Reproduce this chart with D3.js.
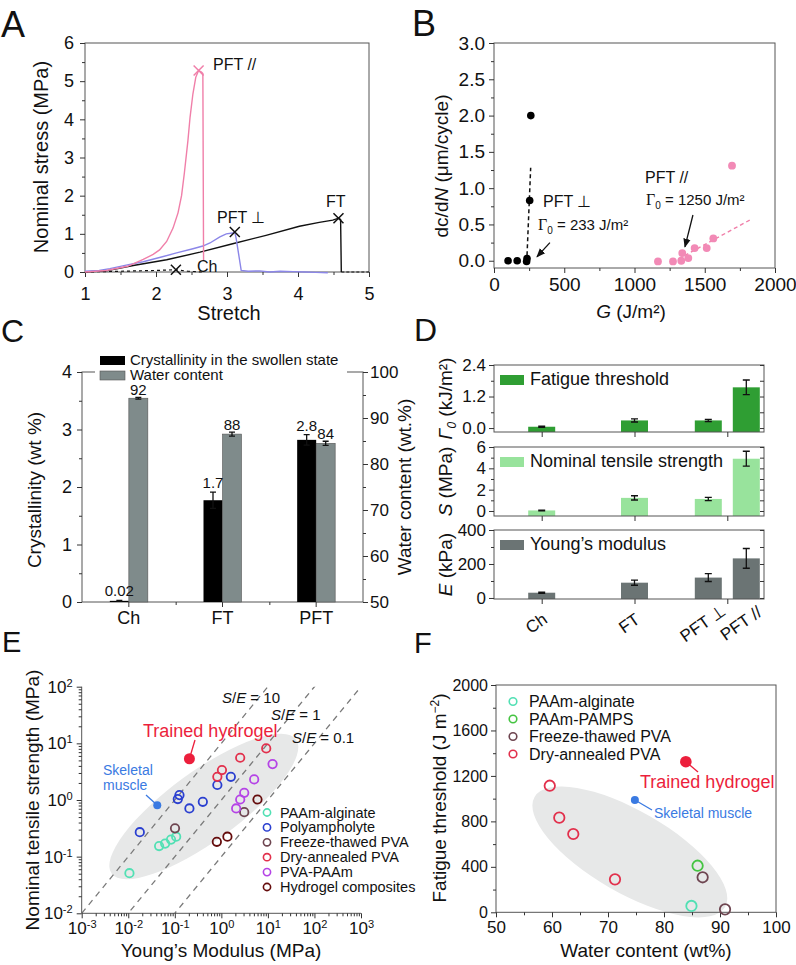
<!DOCTYPE html>
<html>
<head>
<meta charset="utf-8">
<script src="https://d3js.org/d3.v7.min.js"></script>
<style>
  body { margin: 0; padding: 0; background: #fff; }
  svg { font-family: "Liberation Sans", Arial, Helvetica, sans-serif; display: block; }
</style>
</head>
<body>
<svg id="fig" width="796" height="965"></svg>
<script>
// ---------- data: panel A (stretch, nominal stress MPa)
var curvePFTpar = [[1.0,0.0],[1.3,0.04],[1.6,0.15],[1.82,0.33],[1.96,0.46],[2.05,0.58],[2.15,0.8],[2.24,1.15],[2.31,1.55],[2.36,2.0],[2.40,2.6],[2.45,3.45],[2.48,4.06],[2.52,4.67],[2.56,5.1],[2.6,5.28],[2.64,5.24],[2.66,5.2],[2.67,0.3]];
var curvePFTperp = [[1.0,0.02],[1.2,0.04],[1.35,0.09],[1.58,0.18],[1.82,0.27],[2.05,0.38],[2.29,0.5],[2.52,0.61],[2.66,0.68],[2.76,0.76],[2.9,0.92],[2.99,1.0],[3.08,1.02],[3.11,1.05],[3.13,0.87],[3.2,0.04],[3.3,0.02],[3.46,0.03],[3.6,0.0],[3.75,0.02],[3.93,0.01],[4.1,0.0],[4.25,-0.01],[4.42,-0.02]];
var curveFT = [[1.0,0.0],[1.3,0.03],[1.68,0.17],[2.15,0.32],[2.62,0.52],[3.08,0.74],[3.55,0.96],[4.02,1.2],[4.3,1.3],[4.49,1.36],[4.57,1.41],[4.6,1.38],[4.61,0.0]];
var curveFTtail = [[4.61,0.0],[5.0,0.0]];
var curveCh = [[1.0,0.0],[1.5,0.02],[2.0,0.04],[2.28,0.06],[2.45,0.02],[2.65,0.0]];
var breakPFTpar = [2.6,5.28], breakPFTperp = [3.11,1.05], breakFT = [4.57,1.41], breakCh = [2.28,0.06];

// ---------- data: panel B (G J/m2, dc/dN um/cycle)
var crackPerp = [[100,0.0],[165,0.0],[232,-0.01],[235,0.03],[254,0.83],[262,2.0]];
var crackPar = [[1167,-0.01],[1274,-0.01],[1333,0.0],[1340,0.105],[1383,0.037],[1428,0.174],[1514,0.174],[1561,0.307],[1694,1.31]];
var fitPerp = [[233,-0.02],[261,1.28]];
var fitPar = [[1270,-0.02],[1820,0.56]];

// ---------- data: panel C
var catC = ["Ch","FT","PFT"];
var crystallinity = [0.02,1.77,2.82];
var crystallinityErr = [0.01,0.14,0.09];
var waterContent = [94.3,86.5,84.5];
var waterContentErr = [0.2,0.45,0.45];
var crystallinityLbl = ["0.02","1.7","2.8"];
var waterContentLbl = ["92","88","84"];

// ---------- data: panel D
var catD = ["Ch","FT","PFT \u22A5","PFT //"];
var groupD = ["Ch","FT","PFT","PFT"];
var fatigueThr = [0.05,0.29,0.29,1.55];
var fatigueThrErr = [0.02,0.06,0.04,0.28];
var tensileStr = [0.05,1.23,1.13,4.9];
var tensileStrErr = [0.03,0.2,0.15,0.7];
var youngMod = [31,90,120,233];
var youngModErr = [4,15,23,58];

// ---------- data: panel E (Young's modulus MPa, nominal tensile strength MPa)
var eNames = ["PAAm-alginate","Polyampholyte","Freeze-thawed PVA","Dry-annealed PVA","PVA-PAAm","Hydrogel composites"];
var eAlginate = [[0.0106,0.051],[0.046,0.154],[0.062,0.17],[0.083,0.2],[0.107,0.225]];
var ePolyampholyte = [[0.0177,0.27],[0.116,1.04],[0.126,1.22],[0.206,0.71],[0.40,0.93],[0.82,1.84],[1.6,2.57]];
var eFreezeThawed = [[0.101,0.316],[3.1,0.61]];
var eDryAnnealed = [[0.82,2.57],[1.03,3.38],[2.54,5.57],[9.2,8.15]];
var ePvaPaam = [[2.08,0.71],[2.54,1.02],[3.1,1.34],[5.07,2.31],[12.6,4.3]];
var eComposites = [[0.80,0.183],[1.35,0.225],[5.97,1.02]];
var eRatios = [10,1,0.1];
var trainedE = [0.206,5.35], muscleE = [0.042,0.81];
var cloudE = [0.42,0.77];

// ---------- data: panel F (water content wt%, fatigue threshold J/m2)
var fNames = ["PAAm-alginate","PAAm-PAMPS","Freeze-thawed PVA","Dry-annealed PVA"];
var fAlginate = [[84.9,56]];
var fPamps = [[86.0,410]];
var fFreezeThawed = [[86.9,308],[90.9,26]];
var fDryAnnealed = [[59.6,1114],[61.3,833],[63.8,689],[71.25,290]];
var trainedF = [83.9,1325], muscleF = [74.8,988];
var cloudF = [73.9,531];

// ---------- helpers
var svg = d3.select("#fig");
var INK = "#333", FRAME = "#555";
var PINK = "#f07fa9", LILAC = "#8b86e8";
var cAlg = "#52e0b4", cPoly = "#2a3fd0", cFreeze = "#6e4550", cDry = "#e2304c",
    cPva = "#b544e6", cComp = "#650c0c", cPamps = "#45c442", cTrained = "#ec1f3c", cMuscle = "#3a7ae2";
var fInt = d3.format("d");

function tidy(sel, fs) {
  sel.select(".domain").remove();
  sel.selectAll(".tick line").attr("stroke", INK);
  sel.selectAll(".tick text").attr("font-size", fs).attr("fill", "#111");
}
function axis(axisFn, tx, ty, fs) {
  return svg.append("g").attr("transform", "translate(" + tx + "," + ty + ")").call(axisFn).call(tidy, fs || 16);
}
function frame(x, y) {
  var xr = x.range(), yr = y.range();
  svg.append("rect").attr("x", xr[0]).attr("y", yr[1]).attr("width", xr[1] - xr[0])
     .attr("height", yr[0] - yr[1]).attr("fill", "none").attr("stroke", FRAME);
}
function text(t, x, y, fs, opts) {
  opts = opts || {};
  var s = svg.append("text").attr("x", x).attr("y", y).attr("font-size", fs)
     .attr("fill", opts.fill || "#111").attr("text-anchor", opts.anchor || "start").text(t);
  if (opts.rotate) s.attr("transform", "rotate(" + opts.rotate + "," + x + "," + y + ")");
  return s;
}
function steps(a, b, st) {
  return d3.range(a, b + st / 2, st);
}
function cross(x, y, c) {
  var s = 5;
  svg.append("path").attr("d", "M" + (x - s) + "," + (y - s) + "L" + (x + s) + "," + (y + s) + "M" + (x - s) + "," + (y + s) + "L" + (x + s) + "," + (y - s))
     .attr("stroke", c).attr("stroke-width", 1.5);
}
svg.append("defs").append("marker").attr("id", "arr").attr("viewBox", "0 0 10 10").attr("refX", 9).attr("refY", 5)
   .attr("markerWidth", 7).attr("markerHeight", 7).attr("orient", "auto")
   .append("path").attr("d", "M0,1L10,5L0,9z").attr("fill", "#111");

// panel letters
text("A", 1, 37, 36); text("B", 412, 36, 36);
text("C", 1, 342, 32); text("D", 414, 341, 32);
text("E", 2, 652, 29); text("F", 414, 653, 29);

// ================= A
var xA = d3.scaleLinear([1, 5], [85, 369]);
var yA = d3.scaleLinear([0, 6], [272, 43]);
frame(xA, yA);
axis(d3.axisBottom(xA).tickValues([1,2,3,4,5]).tickFormat(fInt).tickSize(5).tickPadding(10), 0, 272, 18);
axis(d3.axisBottom(xA).tickValues(steps(1.5, 4.5, 1)).tickSize(3).tickFormat(""), 0, 272);
axis(d3.axisLeft(yA).tickValues([0,1,2,3,4,5,6]).tickFormat(fInt).tickSize(5).tickPadding(6), 85, 0, 18);
axis(d3.axisLeft(yA).tickValues(steps(0.5, 5.5, 1)).tickSize(3).tickFormat(""), 85, 0);
var lineA = d3.line().x(function (d) { return xA(d[0]); }).y(function (d) { return yA(d[1]); });
svg.append("path").attr("d", lineA(curveCh)).attr("fill", "none").attr("stroke", "#111").attr("stroke-width", 1.2).attr("stroke-dasharray", "3,3");
svg.append("path").attr("d", lineA(curveFTtail)).attr("fill", "none").attr("stroke", "#111").attr("stroke-width", 1.2).attr("stroke-dasharray", "3,2");
svg.append("path").attr("d", lineA(curveFT)).attr("fill", "none").attr("stroke", "#111").attr("stroke-width", 1.4);
svg.append("path").attr("d", lineA(curvePFTperp)).attr("fill", "none").attr("stroke", LILAC).attr("stroke-width", 1.4);
svg.append("path").attr("d", lineA(curvePFTpar)).attr("fill", "none").attr("stroke", PINK).attr("stroke-width", 1.4);
cross(xA(breakPFTpar[0]), yA(breakPFTpar[1]), PINK);
cross(xA(breakPFTperp[0]), yA(breakPFTperp[1]), "#111");
cross(xA(breakFT[0]), yA(breakFT[1]), "#111");
cross(xA(breakCh[0]), yA(breakCh[1]), "#111");
text("PFT //", 213, 70, 16);
text("PFT \u22A5", 217, 223, 16);
text("FT", 326, 207, 16);
text("Ch", 197, 272, 16);
text("Nominal stress (MPa)", 48, 157, 20, { anchor: "middle", rotate: -90 });
text("Stretch", 229, 320, 20, { anchor: "middle" });

// ================= B
var xB = d3.scaleLinear([0, 2000], [494, 775]);
var yB = d3.scaleLinear([-0.1, 3.0], [268, 43]);
frame(xB, yB);
axis(d3.axisBottom(xB).tickValues([0,500,1000,1500,2000]).tickFormat(fInt).tickSize(5).tickPadding(5), 0, 268, 19);
axis(d3.axisBottom(xB).tickValues([250,750,1250,1750]).tickSize(3).tickFormat(""), 0, 268);
axis(d3.axisLeft(yB).tickValues(steps(0, 3, 0.5)).tickFormat(d3.format(".1f")).tickSize(5).tickPadding(4), 494, 0, 19);
axis(d3.axisLeft(yB).tickValues(steps(0.25, 2.75, 0.5)).tickSize(3).tickFormat(""), 494, 0);
var lineB = d3.line().x(function (d) { return xB(d[0]); }).y(function (d) { return yB(d[1]); });
svg.append("path").attr("d", lineB(fitPerp)).attr("stroke", "#111").attr("stroke-width", 1.5).attr("stroke-dasharray", "4,3").attr("fill", "none");
svg.append("path").attr("d", lineB(fitPar)).attr("stroke", PINK).attr("stroke-width", 1.4).attr("stroke-dasharray", "4,3").attr("fill", "none");
svg.selectAll(".dotPerp").data(crackPerp).enter().append("circle")
   .attr("cx", function (d) { return xB(d[0]); }).attr("cy", function (d) { return yB(d[1]); }).attr("r", 3.8).attr("fill", "#000");
svg.selectAll(".dotPar").data(crackPar).enter().append("circle")
   .attr("cx", function (d) { return xB(d[0]); }).attr("cy", function (d) { return yB(d[1]); }).attr("r", 3.9).attr("fill", "#f28ab6");
svg.append("line").attr("x1", xB(398)).attr("y1", yB(0.25)).attr("x2", xB(306)).attr("y2", yB(0.055))
   .attr("stroke", "#111").attr("stroke-width", 1.3).attr("marker-end", "url(#arr)");
svg.append("line").attr("x1", xB(1416)).attr("y1", yB(0.63)).attr("x2", xB(1359)).attr("y2", yB(0.19))
   .attr("stroke", "#111").attr("stroke-width", 1.3).attr("marker-end", "url(#arr)");
text("PFT \u22A5", 543, 207, 16);
var g1 = text("", 538, 230, 15);
g1.append("tspan").attr("font-family", "Liberation Serif, serif").attr("font-size", 16).text("\u0393");
g1.append("tspan").attr("font-size", 10).attr("dy", 4).text("0");
g1.append("tspan").attr("dy", -4).text(" = 233 J/m\u00B2");
text("PFT //", 645, 183, 16);
var g2 = text("", 646, 205, 15);
g2.append("tspan").attr("font-family", "Liberation Serif, serif").attr("font-size", 16).text("\u0393");
g2.append("tspan").attr("font-size", 10).attr("dy", 4).text("0");
g2.append("tspan").attr("dy", -4).text(" = 1250 J/m\u00B2");
var tb = text("", 448, 166, 19, { anchor: "middle", rotate: -90 });
tb.append("tspan").text("dc/d");
tb.append("tspan").attr("font-style", "italic").text("N");
tb.append("tspan").text(" (\u03BCm/cycle)");
var tbx = text("", 631, 318, 19, { anchor: "middle" });
tbx.append("tspan").attr("font-style", "italic").text("G");
tbx.append("tspan").text(" (J/m\u00B2)");

// ================= C
var xC = d3.scaleBand(catC, [82, 363]);
var yC = d3.scaleLinear([0, 4], [602, 372]);
var yCr = d3.scaleLinear([50, 100], [602, 372]);
frame(xC, yC);
axis(d3.axisBottom(xC).tickSize(5).tickPadding(4), 0, 602, 18);
axis(d3.axisBottom(d3.scaleLinear([0, 3], [82, 363])).tickValues([1, 2]).tickSize(3).tickFormat(""), 0, 602);
axis(d3.axisLeft(yC).tickValues([0,1,2,3,4]).tickFormat(fInt).tickSize(5).tickPadding(5), 82, 0, 18);
axis(d3.axisLeft(yC).tickValues(steps(0.5, 3.5, 1)).tickSize(3).tickFormat(""), 82, 0);
axis(d3.axisRight(yCr).tickValues(steps(50, 100, 10)).tickFormat(fInt).tickSize(5).tickPadding(2), 363, 0, 17);
axis(d3.axisRight(yCr).tickValues(steps(55, 95, 10)).tickSize(3).tickFormat(""), 363, 0);
var bwC = 19;
function cMid(c) { return xC(c) + xC.bandwidth() / 2; }
function errBar(cx, yTop, yBot, w) {
  svg.append("path").attr("d", "M" + cx + "," + yTop + "V" + yBot + "M" + (cx - w) + "," + yTop + "H" + (cx + w) + "M" + (cx - w) + "," + yBot + "H" + (cx + w))
     .attr("stroke", "#111").attr("stroke-width", 1.3).attr("fill", "none");
}
svg.append("rect").attr("x", 95).attr("y", 352).attr("width", 252).attr("height", 31).attr("fill", "#fff");
catC.forEach(function (c, i) {
  var m = cMid(c);
  svg.append("rect").attr("x", m - bwC).attr("y", yC(crystallinity[i])).attr("width", bwC)
     .attr("height", yC(0) - yC(crystallinity[i])).attr("fill", "#000");
  svg.append("rect").attr("x", m).attr("y", yCr(waterContent[i])).attr("width", bwC)
     .attr("height", yCr(50) - yCr(waterContent[i])).attr("fill", "#7f8b8b").attr("stroke", "#555").attr("stroke-width", 0.6);
  errBar(m - bwC / 2, yC(crystallinity[i] + crystallinityErr[i]), yC(crystallinity[i] - crystallinityErr[i]), 3);
  errBar(m + bwC / 2, yCr(waterContent[i] + waterContentErr[i]), yCr(waterContent[i] - waterContentErr[i]), 3);
  text(crystallinityLbl[i], m - bwC / 2, yC(crystallinity[i] + crystallinityErr[i]) - 4, 15, { anchor: "middle" });
  text(waterContentLbl[i], m + bwC / 2, yCr(waterContent[i] + waterContentErr[i]) - 2, 15, { anchor: "middle" });
});
svg.append("rect").attr("x", 100).attr("y", 356).attr("width", 25).attr("height", 9).attr("fill", "#000");
svg.append("rect").attr("x", 100).attr("y", 371).attr("width", 25).attr("height", 9).attr("fill", "#7f8b8b").attr("stroke", "#555").attr("stroke-width", 0.6);
text("Crystallinity in the swollen state", 130, 365, 15);
text("Water content", 130, 380, 15);
text("Crystallinity (wt %)", 41, 490, 19, { anchor: "middle", rotate: -90 });
text("Water content (wt.%)", 411, 487, 19, { anchor: "middle", rotate: -90 });

// ================= D
var xD = d3.scalePoint(["Ch", "FT", "PFT"], [541.7, 727.3]);
var xDframe = d3.scaleLinear([0, 1], [494, 764]);
var bwD = 27;
function dX(i) {
  var g = groupD[i], same = groupD.filter(function (v) { return v === g; });
  var k = groupD.slice(0, i).filter(function (v) { return v === g; }).length;
  return xD(g) + (k - (same.length - 1) / 2) * 38;
}
var dPanels = [
  { y: d3.scaleLinear([-0.15, 2.4], [432, 365]), vals: fatigueThr, err: fatigueThrErr, ticks: [0, 1.2, 2.4], minor: [0.6, 1.8], fmt: d3.format(".1f"), color: "#2f9e33", legend: "Fatigue threshold", ttl: ["\u0393", "0", " (kJ/m\u00B2)"] },
  { y: d3.scaleLinear([-0.47, 6], [516, 447]), vals: tensileStr, err: tensileStrErr, ticks: [0, 2, 4, 6], minor: [1, 3, 5], fmt: fInt, color: "#98e39c", legend: "Nominal tensile strength", ttl: ["S", "", " (MPa)"] },
  { y: d3.scaleLinear([-6, 400], [599, 530]), vals: youngMod, err: youngModErr, ticks: [0, 200, 400], minor: [100, 300], fmt: fInt, color: "#6b7474", legend: "Young\u2019s modulus", ttl: ["E", "", " (kPa)"] }
];
dPanels.forEach(function (p) {
  var y = p.y, y0 = y.range()[0], y1 = y.range()[1];
  catD.forEach(function (c, i) {
    var cx = dX(i);
    svg.append("rect").attr("x", cx - bwD / 2).attr("y", y(p.vals[i])).attr("width", bwD).attr("height", y0 - y(p.vals[i])).attr("fill", p.color);
    errBar(cx, y(p.vals[i] + p.err[i]), y(p.vals[i] - p.err[i]), 3.5);
  });
  frame(xDframe, y);
  axis(d3.axisLeft(y).tickValues(p.ticks).tickFormat(p.fmt).tickSize(5).tickPadding(3), 494, 0, 17);
  axis(d3.axisLeft(y).tickValues(p.minor).tickSize(3).tickFormat(""), 494, 0);
  axis(d3.axisRight(y).tickValues(p.ticks.concat(p.minor)).tickSize(-4).tickFormat(""), 764, 0);
  axis(d3.axisBottom(xD).tickSize(5).tickFormat(""), 0, y0);
  svg.append("rect").attr("x", 500).attr("y", y1 + 10).attr("width", 24).attr("height", 10).attr("fill", p.color);
  text(p.legend, 530, y1 + 20, 18);
  var t = text("", 452, (y0 + y1) / 2, 19, { anchor: "middle", rotate: -90 });
  t.append("tspan").attr("font-style", "italic").text(p.ttl[0]);
  if (p.ttl[1]) t.append("tspan").attr("font-style", "italic").attr("font-size", 12).attr("dy", 4).text(p.ttl[1]);
  t.append("tspan").attr("dy", p.ttl[1] ? -4 : 0).text(p.ttl[2]);
});
catD.forEach(function (c, i) {
  text(c, dX(i) - 2, 628, 17, { anchor: "middle", rotate: -35 });
});

// ================= E
var xE = d3.scaleLog([1e-3, 1e3], [81.7, 361]);
var yE = d3.scaleLog([1e-2, 1e2], [913.3, 686.7]);
svg.append("clipPath").attr("id", "clipE").append("rect").attr("x", 81.7).attr("y", 686.7).attr("width", 279.3).attr("height", 226.6);
var cxE = xE(cloudE[0]), cyE = yE(cloudE[1]);
svg.append("ellipse").attr("cx", cxE).attr("cy", cyE).attr("rx", 114).attr("ry", 35)
   .attr("transform", "rotate(-36," + cxE + "," + cyE + ")").attr("fill", "#e7e8e8");
eRatios.forEach(function (r) {
  svg.append("line").attr("clip-path", "url(#clipE)")
     .attr("x1", xE(1e-3)).attr("y1", yE(1e-3 * r)).attr("x2", xE(1e3)).attr("y2", yE(1e3 * r))
     .attr("stroke", "#7a7a7a").attr("stroke-width", 1.3).attr("stroke-dasharray", "6,5");
});
function decades(a, b) { var out = []; for (var e = a; e <= b; e++) out.push(Math.pow(10, e)); return out; }
function minorLog(a, b) { var out = []; for (var e = a; e < b; e++) for (var k = 2; k <= 9; k++) out.push(k * Math.pow(10, e)); return out; }
function supLabels(sel) {
  sel.selectAll(".tick text").each(function (d) {
    var t = d3.select(this), ex = Math.round(Math.log10(d));
    t.text("10");
    t.append("tspan").attr("dy", "-0.55em").attr("font-size", "0.65em").text(ex);
  });
}
svg.append("line").attr("x1", 81.7).attr("x2", 361).attr("y1", 913.3).attr("y2", 913.3).attr("stroke", FRAME);
svg.append("line").attr("x1", 81.7).attr("x2", 81.7).attr("y1", 686.7).attr("y2", 913.3).attr("stroke", FRAME);
axis(d3.axisBottom(xE).tickValues(decades(-3, 3)).tickSize(5).tickPadding(4), 0, 913.3, 17).call(supLabels);
axis(d3.axisBottom(xE).tickValues(minorLog(-3, 3)).tickSize(3).tickFormat(""), 0, 913.3);
axis(d3.axisLeft(yE).tickValues(decades(-2, 2)).tickSize(5).tickPadding(4), 81.7, 0, 17).call(supLabels);
axis(d3.axisLeft(yE).tickValues(minorLog(-2, 2)).tickSize(3).tickFormat(""), 81.7, 0);
var eSets = [eAlginate, ePolyampholyte, eFreezeThawed, eDryAnnealed, ePvaPaam, eComposites];
var eColors = [cAlg, cPoly, cFreeze, cDry, cPva, cComp];
eSets.forEach(function (set, k) {
  svg.selectAll(".e" + k).data(set).enter().append("circle")
     .attr("cx", function (d) { return xE(d[0]); }).attr("cy", function (d) { return yE(d[1]); })
     .attr("r", 4.2).attr("fill", "none").attr("stroke", eColors[k]).attr("stroke-width", 1.8);
});
svg.append("line").attr("x1", 195).attr("y1", 740).attr("x2", xE(trainedE[0])).attr("y2", yE(trainedE[1])).attr("stroke", cTrained).attr("stroke-width", 1.3);
svg.append("circle").attr("cx", xE(trainedE[0])).attr("cy", yE(trainedE[1])).attr("r", 5.5).attr("fill", cTrained);
svg.append("line").attr("x1", 146).attr("y1", 795).attr("x2", xE(muscleE[0])).attr("y2", yE(muscleE[1])).attr("stroke", cMuscle).attr("stroke-width", 1.3);
svg.append("circle").attr("cx", xE(muscleE[0])).attr("cy", yE(muscleE[1])).attr("r", 4).attr("fill", cMuscle);
text("Trained hydrogel", 143, 736.5, 18, { fill: cTrained });
text("Skeletal", 103, 775, 14, { fill: cMuscle });
text("muscle", 103, 790, 14, { fill: cMuscle });
[["10", 222, 703], ["1", 271, 719.5], ["0.1", 292, 743]].forEach(function (a) {
  var t = text("", a[1], a[2], 15);
  t.append("tspan").attr("font-style", "italic").text("S");
  t.append("tspan").text("/");
  t.append("tspan").attr("font-style", "italic").text("E");
  t.append("tspan").text(" = " + a[0]);
});
eNames.forEach(function (n, k) {
  var yy = 817.5 + k * 14.9;
  svg.append("circle").attr("cx", 267).attr("cy", yy - 5).attr("r", 3.6).attr("fill", "none").attr("stroke", eColors[k]).attr("stroke-width", 1.6);
  text(n, 280, yy, 14.5);
});
text("Nominal tensile strength (MPa)", 39, 800, 19, { anchor: "middle", rotate: -90 });
text("Young\u2019s Modulus (MPa)", 221, 957, 19, { anchor: "middle" });

// ================= F
var xF = d3.scaleLinear([50, 100], [496, 776]);
var yF = d3.scaleLinear([0, 2000], [912.3, 685]);
svg.append("clipPath").attr("id", "clipF").append("rect").attr("x", 496).attr("y", 685).attr("width", 280).attr("height", 227.3);
var cxF = xF(cloudF[0]), cyF = yF(cloudF[1]);
svg.append("ellipse").attr("clip-path", "url(#clipF)").attr("cx", cxF).attr("cy", cyF).attr("rx", 110).attr("ry", 41)
   .attr("transform", "rotate(30," + cxF + "," + cyF + ")").attr("fill", "#e7e8e8");
frame(xF, yF);
axis(d3.axisBottom(xF).tickValues(steps(50, 100, 10)).tickFormat(fInt).tickSize(5).tickPadding(4), 0, 912.3, 17);
axis(d3.axisBottom(xF).tickValues(steps(55, 95, 10)).tickSize(3).tickFormat(""), 0, 912.3);
axis(d3.axisLeft(yF).tickValues(steps(0, 2000, 400)).tickFormat(fInt).tickSize(5).tickPadding(3), 496, 0, 16);
axis(d3.axisLeft(yF).tickValues(steps(200, 1800, 400)).tickSize(3).tickFormat(""), 496, 0);
var fSets = [fAlginate, fPamps, fFreezeThawed, fDryAnnealed];
var fColors = [cAlg, cPamps, cFreeze, cDry];
fSets.forEach(function (set, k) {
  svg.selectAll(".f" + k).data(set).enter().append("circle")
     .attr("cx", function (d) { return xF(d[0]); }).attr("cy", function (d) { return yF(d[1]); })
     .attr("r", 5.2).attr("fill", "none").attr("stroke", fColors[k]).attr("stroke-width", 1.8);
});
svg.append("line").attr("x1", xF(trainedF[0])).attr("y1", yF(trainedF[1])).attr("x2", 698).attr("y2", 772).attr("stroke", cTrained).attr("stroke-width", 1.3);
svg.append("circle").attr("cx", xF(trainedF[0])).attr("cy", yF(trainedF[1])).attr("r", 5.8).attr("fill", cTrained);
svg.append("line").attr("x1", xF(muscleF[0])).attr("y1", yF(muscleF[1])).attr("x2", 652).attr("y2", 810).attr("stroke", cMuscle).attr("stroke-width", 1.3);
svg.append("circle").attr("cx", xF(muscleF[0])).attr("cy", yF(muscleF[1])).attr("r", 4).attr("fill", cMuscle);
text("Trained hydrogel", 640, 788, 18, { fill: cTrained });
text("Skeletal muscle", 654, 818, 14, { fill: cMuscle });
fNames.forEach(function (n, k) {
  var yy = 707 + k * 17.5;
  svg.append("circle").attr("cx", 513).attr("cy", yy - 5.5).attr("r", 3.8).attr("fill", "none").attr("stroke", fColors[k]).attr("stroke-width", 1.6);
  text(n, 529, yy, 16);
});
var tf = text("Fatigue threshold (J m", 446, 798, 19, { anchor: "middle", rotate: -90 });
tf.append("tspan").attr("font-size", 12).attr("dy", -7).text("\u22122");
tf.append("tspan").attr("dy", 7).text(")");
text("Water content (wt%)", 646, 957, 19, { anchor: "middle" });
</script>
</body>
</html>
